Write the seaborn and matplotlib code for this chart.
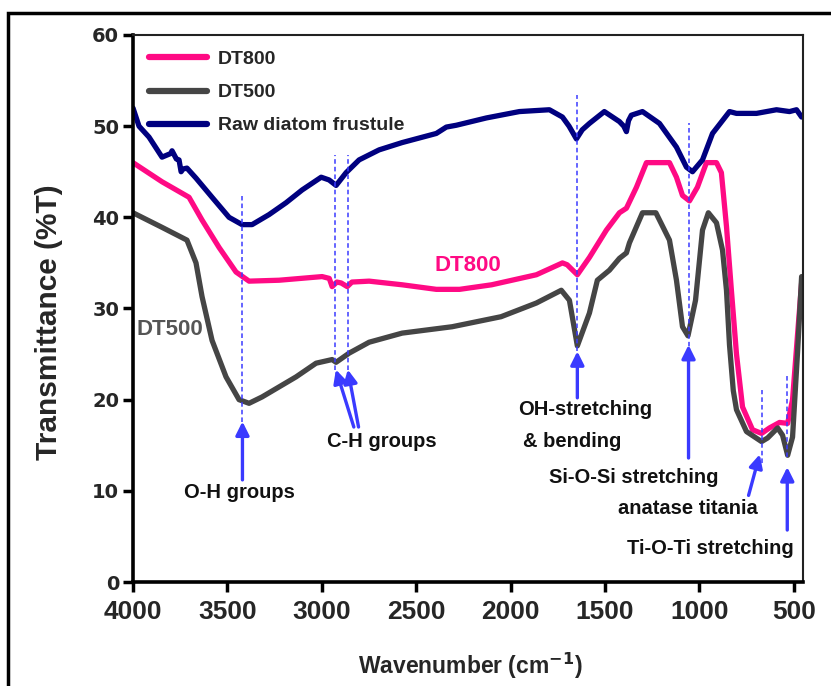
import numpy as np
import pandas as pd
import matplotlib
matplotlib.use("Agg")
import matplotlib.pyplot as plt
from matplotlib.patches import Rectangle
import seaborn as sns

# ---- FTIR spectra (wavenumber in cm^-1, transmittance in %T) ----
raw_wn = [4000, 3968, 3915, 3846, 3800, 3793, 3770, 3756, 3745, 3735, 3714, 3666,
          3581, 3491, 3422, 3369, 3279, 3189, 3104, 3003, 2961, 2924, 2871, 2802,
          2696, 2574, 2393, 2340, 2287, 2128, 1953, 1794, 1725, 1690, 1651, 1620,
          1582, 1503, 1423, 1400, 1386, 1375, 1360, 1301, 1211, 1121, 1068, 1036,
          983, 930, 840, 803, 697, 591, 522, 485, 458]
raw_t = [52.0, 50.0, 48.8, 46.6, 47.0, 47.3, 46.4, 46.3, 45.0, 45.3, 45.4, 44.3,
         42.2, 40.0, 39.2, 39.2, 40.3, 41.6, 43.0, 44.4, 44.1, 43.5, 44.9, 46.3,
         47.4, 48.2, 49.2, 49.9, 50.1, 50.9, 51.6, 51.8, 51.0, 50.0, 48.6, 49.6,
         50.3, 51.6, 50.5, 50.0, 49.4, 50.6, 51.2, 51.6, 50.3, 47.7, 45.5, 45.0,
         46.3, 49.2, 51.6, 51.4, 51.4, 51.8, 51.6, 51.8, 51.0]

dt800_wn = [4000, 3846, 3703, 3634, 3544, 3454, 3385, 3226, 2998, 2960, 2945, 2920,
            2897, 2865, 2840, 2749, 2574, 2393, 2270, 2100, 1863, 1725, 1700, 1646,
            1582, 1492, 1423, 1386, 1333, 1280, 1158, 1121, 1089, 1052, 1010, 962,
            909, 883, 856, 830, 803, 771, 718, 670, 628, 575, 532, 506, 479, 458]
dt800_t = [46.0, 43.9, 42.2, 39.7, 36.7, 34.0, 33.0, 33.1, 33.5, 33.3, 32.4, 32.9,
           32.8, 32.4, 32.9, 33.0, 32.6, 32.1, 32.1, 32.6, 33.7, 35.0, 34.8, 33.7,
           35.6, 38.6, 40.5, 41.0, 43.3, 46.0, 46.0, 44.4, 42.4, 41.8, 43.3, 46.0,
           46.0, 44.9, 39.0, 32.0, 25.0, 19.2, 16.7, 16.3, 16.9, 17.5, 17.4, 20.0,
           27.3, 32.8]

dt500_wn = [4000, 3846, 3714, 3666, 3634, 3581, 3507, 3438, 3385, 3316, 3226, 3136,
            3030, 2945, 2924, 2855, 2749, 2574, 2309, 2050, 1863, 1731, 1688, 1646,
            1582, 1540, 1476, 1423, 1386, 1370, 1301, 1230, 1158, 1121, 1089, 1060,
            1020, 983, 952, 909, 877, 856, 840, 820, 803, 750, 670, 638, 585, 559,
            532, 506, 479, 458]
dt500_t = [40.5, 38.9, 37.5, 35.0, 31.3, 26.5, 22.5, 20.0, 19.6, 20.3, 21.4, 22.5,
           24.0, 24.4, 24.1, 25.1, 26.3, 27.3, 28.0, 29.1, 30.6, 32.0, 30.9, 25.9,
           29.5, 33.1, 34.2, 35.5, 36.1, 37.2, 40.5, 40.5, 37.5, 33.1, 28.0, 27.0,
           30.9, 38.6, 40.5, 39.4, 36.4, 32.0, 26.0, 21.0, 18.9, 16.5, 15.4, 15.8,
           16.9, 16.1, 13.9, 15.9, 25.4, 33.5]

series_names = ["DT800", "DT500", "Raw diatom frustule"]
series_colors = ["#FF0A84", "#454545", "#00007F"]

x_ticks = [4000, 3500, 3000, 2500, 2000, 1500, 1000, 500]
y_ticks = [0, 10, 20, 30, 40, 50, 60]

# dashed band markers: (wavenumber, bottom, top)
band_lines = [(3420, 17.6, 42.3), (2930, 23.3, 46.8), (2862, 23.3, 46.8),
              (1646, 25.3, 53.4), (1057, 22.5, 50.3), (667, 13.1, 21.1),
              (534, 13.7, 22.9)]
# arrows: (tail x, tail y, tip x, tip y)
band_arrows = [(3420, 11.2, 3420, 17.6), (2830, 17.0, 2925, 23.3),
               (2805, 17.0, 2862, 23.3), (1646, 20.2, 1646, 25.3),
               (1057, 13.6, 1057, 26.0), (739, 9.5, 680, 14.0),
               (534, 5.7, 534, 12.6)]
band_labels = [("O-H groups", 3438, 9.8), ("C-H groups", 2682, 15.4),
               ("OH-stretching", 1603, 18.9), ("& bending", 1672, 15.4),
               ("Si-O-Si stretching", 1346, 11.5), ("anatase titania", 1063, 8.1),
               ("Ti-O-Ti stretching", 941, 3.7)]

# ---- tidy frame for seaborn ----
frames = []
for name, wn, t in zip(series_names, [dt800_wn, dt500_wn, raw_wn],
                       [dt800_t, dt500_t, raw_t]):
    frames.append(pd.DataFrame({"wavenumber": wn, "transmittance": t, "sample": name}))
df = pd.concat(frames, ignore_index=True)

sns.set_style("ticks")
plt.rcParams["font.family"] = ["Liberation Sans", "DejaVu Sans"]
plt.rcParams["font.weight"] = "bold"
plt.rcParams["lines.solid_joinstyle"] = "round"
plt.rcParams["lines.solid_capstyle"] = "round"

fig = plt.figure(figsize=(8.31, 6.86), dpi=100)
ax = fig.add_axes([0.160, 0.1516, 0.806, 0.7974])

sns.lineplot(data=df, x="wavenumber", y="transmittance", hue="sample",
             hue_order=series_names, palette=series_colors, estimator=None,
             linewidth=3.8, ax=ax, legend=False)
for ln in ax.get_lines():
    ln.set_solid_joinstyle("round")

blue = "#3A3AFF"
for x, y0, y1 in band_lines:
    ax.plot([x, x], [y0, y1], color=blue, lw=1.1, ls=(0, (3, 2)), zorder=3)
for tx, ty, hx, hy in band_arrows:
    ax.annotate("", xy=(hx, hy), xytext=(tx, ty),
                arrowprops=dict(arrowstyle="-|>", color=blue, lw=2.4,
                                mutation_scale=20, shrinkA=0, shrinkB=0),
                zorder=4)
for text, x, y in band_labels:
    ax.text(x, y, text, ha="center", va="center", fontsize=14.5,
            fontweight="bold", color="#111111")

ax.text(2224, 34.7, "DT800", color=series_colors[0], fontsize=16,
        fontweight="bold", ha="center", va="center")
ax.text(3804, 27.75, "DT500", color="#555555", fontsize=16,
        fontweight="bold", ha="center", va="center")

ax.set_xlim(4000, 452)
ax.set_ylim(0, 60)
ax.set_xticks(x_ticks)
ax.set_yticks(y_ticks)
ax.set_xticklabels([str(v) for v in x_ticks], fontsize=19, fontweight="bold")
ax.set_yticklabels([str(v) for v in y_ticks], fontsize=14, fontweight="bold",
                   family="DejaVu Sans")
ax.tick_params(axis="both", direction="out", length=7, width=2.5, color="black",
               pad=3)
ax.tick_params(axis="x", pad=6)
ax.set_xlabel("Wavenumber (cm$^{\\mathbf{-1}}$)", fontsize=16.5, fontweight="bold")
ax.set_ylabel("Transmittance (%T)", fontsize=21.5, fontweight="bold")
ax.xaxis.set_label_coords(0.503, -0.125)
ax.yaxis.set_label_coords(-0.104, 0.475)

for side in ["left", "bottom"]:
    ax.spines[side].set_linewidth(2.6)
    ax.spines[side].set_color("black")
for side in ["top", "right"]:
    ax.spines[side].set_linewidth(1.5)
    ax.spines[side].set_color("#222222")

handles = [plt.Line2D([], [], color=c, lw=4.5, solid_capstyle="round")
           for c in series_colors]
ax.legend(handles, series_names, loc="upper left", bbox_to_anchor=(0.0, 1.0),
          frameon=False, handlelength=3.0, handletextpad=0.55, labelspacing=0.8,
          prop={"weight": "bold", "size": 14}, borderaxespad=0.4)

# outer frame around the figure
fig.patches.append(Rectangle((8 / 831, -0.1), 1.5, 1 - 13 / 686 + 0.1,
                             transform=fig.transFigure, fill=False,
                             edgecolor="black", lw=2.5))

fig.savefig("out.png", dpi=100)
